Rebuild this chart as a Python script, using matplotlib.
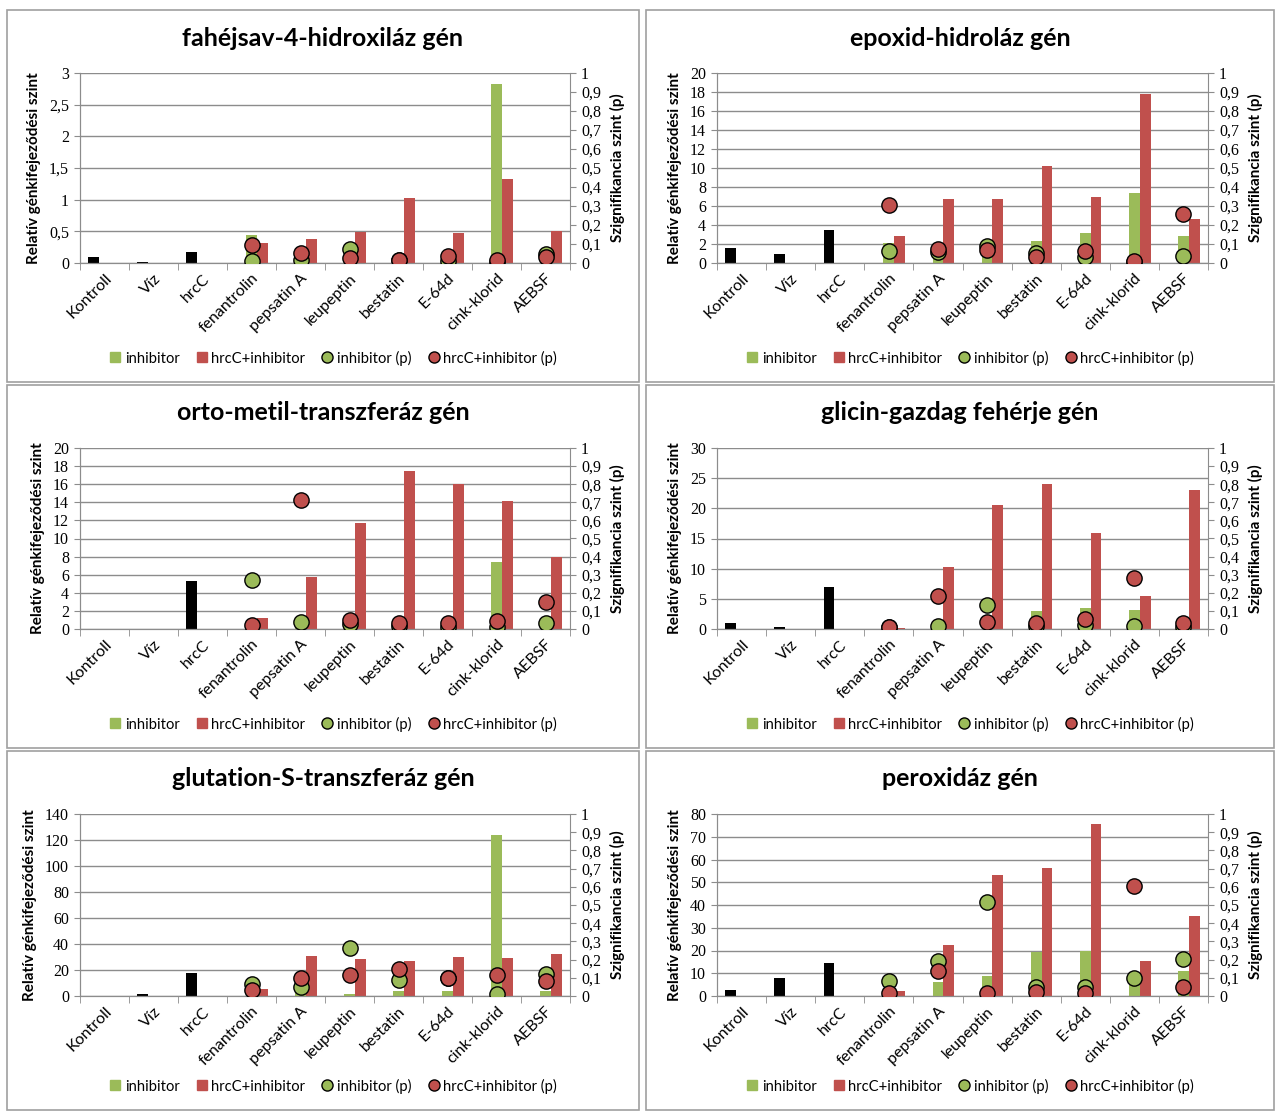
import matplotlib.pyplot as plt
from matplotlib.ticker import FuncFormatter, MultipleLocator, FixedLocator
from matplotlib.lines import Line2D
from matplotlib.patches import Rectangle
import numpy as np

# categories on the x axis (first three are the reference treatments)
categories = ["Kontroll", "Víz", "hrcC", "fenantrolin", "pepsatin A",
              "leupeptin", "bestatin", "E-64d", "cink-klorid", "AEBSF"]

# fahéjsav-4-hidroxiláz
c4h_ref = [0.09, 0.01, 0.18]
c4h_inh = [0.45, 0.05, 0.18, 0.03, 0.05, 2.82, 0.12]
c4h_hrc = [0.31, 0.38, 0.49, 1.03, 0.47, 1.33, 0.51]
c4h_inh_p = [0.01, 0.014, 0.075, 0.015, 0.01, 0.007, 0.05]
c4h_hrc_p = [0.096, 0.053, 0.028, 0.014, 0.035, 0.014, 0.03]

# epoxid-hidroláz
eh_ref = [1.6, 1.0, 3.5]
eh_inh = [2.1, 1.5, 1.9, 2.3, 3.15, 7.4, 2.85]
eh_hrc = [2.8, 6.7, 6.7, 10.2, 7.0, 17.75, 4.67]
eh_inh_p = [0.063, 0.06, 0.088, 0.053, 0.03, 0.005, 0.037]
eh_hrc_p = [0.307, 0.072, 0.067, 0.03, 0.061, 0.009, 0.26]

# orto-metil-transzferáz
omt_ref = [0.0, 0.0, 5.3]
omt_inh = [0.2, 0.3, 0.5, 0.3, 0.3, 7.35, 0.5]
omt_hrc = [1.2, 5.7, 11.7, 17.5, 16.0, 14.1, 8.0]
omt_inh_p = [0.268, 0.04, 0.028, 0.017, 0.011, 0.011, 0.031]
omt_hrc_p = [0.024, 0.71, 0.05, 0.033, 0.033, 0.044, 0.149]

# glicin-gazdag fehérje
grp_ref = [0.95, 0.4, 7.0]
grp_inh = [0.0, 0.3, 0.5, 3.0, 3.4, 3.2, 0.5]
grp_hrc = [0.1, 10.3, 20.6, 24.1, 15.9, 5.5, 23.1]
grp_inh_p = [0.01, 0.018, 0.134, 0.017, 0.02, 0.018, 0.01]
grp_hrc_p = [0.013, 0.18, 0.037, 0.031, 0.053, 0.284, 0.035]

# glutation-S-transzferáz
gst_ref = [0.0, 1.5, 17.7]
gst_inh = [1.0, 6.0, 1.5, 3.8, 3.8, 124.0, 3.8]
gst_hrc = [5.1, 30.5, 28.2, 26.8, 30.0, 29.5, 32.3]
gst_inh_p = [0.066, 0.051, 0.264, 0.088, 0.1, 0.01, 0.12]
gst_hrc_p = [0.033, 0.10, 0.117, 0.147, 0.10, 0.115, 0.082]

# peroxidáz
pox_ref = [2.5, 7.8, 14.3]
pox_inh = [1.0, 6.0, 8.9, 19.4, 19.9, 6.0, 11.0]
pox_hrc = [2.0, 22.2, 53.1, 56.4, 75.5, 15.6, 35.0]
pox_inh_p = [0.082, 0.19, 0.515, 0.05, 0.05, 0.1, 0.204]
pox_hrc_p = [0.016, 0.137, 0.018, 0.024, 0.018, 0.606, 0.05]

titles = ["fahéjsav-4-hidroxiláz gén", "epoxid-hidroláz gén",
          "orto-metil-transzferáz gén", "glicin-gazdag fehérje gén",
          "glutation-S-transzferáz gén", "peroxidáz gén"]
ymax = [3, 20, 20, 30, 140, 80]
ystep = [0.5, 2, 2, 5, 20, 10]

panels = [
    (c4h_ref, c4h_inh, c4h_hrc, c4h_inh_p, c4h_hrc_p),
    (eh_ref, eh_inh, eh_hrc, eh_inh_p, eh_hrc_p),
    (omt_ref, omt_inh, omt_hrc, omt_inh_p, omt_hrc_p),
    (grp_ref, grp_inh, grp_hrc, grp_inh_p, grp_hrc_p),
    (gst_ref, gst_inh, gst_hrc, gst_inh_p, gst_hrc_p),
    (pox_ref, pox_inh, pox_hrc, pox_inh_p, pox_hrc_p),
]

GREEN = "#9bbb59"
RED = "#c0504d"
GRID = "#8c8c8c"
SANS = ["Lato", "DejaVu Sans"]
SERIF = ["Liberation Serif", "DejaVu Serif"]

W, H = 1275, 1113
fig = plt.figure(figsize=(W / 100, H / 100), dpi=100)


def rect(x0, y0, x1, y1):
    return [x0 / W, 1 - y1 / H, (x1 - x0) / W, (y1 - y0) / H]


def comma(v, _):
    s = f"{round(v, 2):g}"
    return s.replace(".", ",")


frames_x = [(7, 639), (646, 1274)]
frames_y = [(10, 382), (385, 748), (751, 1110)]
axes_x = [(80, 570), (717, 1208)]
axes_y = [(73, 263), (448, 629), (814, 996)]

x = np.arange(len(categories))
w = 0.22

for i, (ref, inh, hrc, inh_p, hrc_p) in enumerate(panels):
    r, c = divmod(i, 2)
    fx0, fx1 = frames_x[c]
    fy0, fy1 = frames_y[r]
    fig.add_artist(Rectangle((fx0 / W, 1 - fy1 / H), (fx1 - fx0) / W,
                             (fy1 - fy0) / H, transform=fig.transFigure,
                             fill=False, edgecolor="#a0a0a0", lw=1.2))

    ax0, ax1 = axes_x[c]
    ay0, ay1 = axes_y[r]
    ax = fig.add_axes(rect(ax0, ay0, ax1, ay1))
    ax2 = ax.twinx()

    ax.bar(x[:3] - w, ref, w, color="black", zorder=2)
    ax.bar(x[3:], inh, w, color=GREEN, zorder=2)
    ax.bar(x[3:] + w, hrc, w, color=RED, zorder=2)

    ax2.plot(x[3:], inh_p, "o", ms=11, mfc=GREEN, mec="black", mew=1.0,
             ls="none", zorder=3)
    ax2.plot(x[3:], hrc_p, "o", ms=11, mfc=RED, mec="black", mew=1.0,
             ls="none", zorder=4)

    ax.set_xlim(-0.5, len(categories) - 0.5)
    ax.set_ylim(0, ymax[i])
    ax2.set_ylim(0, 1)
    ax.yaxis.set_major_locator(MultipleLocator(ystep[i]))
    ax.yaxis.set_major_formatter(FuncFormatter(comma))
    ax2.yaxis.set_major_locator(MultipleLocator(0.1))
    ax2.yaxis.set_major_formatter(FuncFormatter(comma))
    ax.grid(axis="y", color=GRID, lw=1.0, zorder=0)
    ax.set_axisbelow(True)

    ax.set_xticks(x)
    ax.set_xticklabels(categories, rotation=45, ha="right",
                       rotation_mode="anchor", fontsize=11.5, family=SANS)
    ax.xaxis.set_minor_locator(FixedLocator(np.arange(-0.5, len(categories), 1)))
    ax.tick_params(axis="x", which="major", length=0, pad=6)
    ax.tick_params(axis="x", which="minor", length=5, color=GRID)
    ax.tick_params(axis="y", length=4, color=GRID, pad=4)
    ax2.tick_params(axis="y", length=4, color=GRID, pad=4)
    for lab in ax.get_yticklabels() + ax2.get_yticklabels():
        lab.set_family(SERIF)
        lab.set_fontsize(11.5)

    for a in (ax, ax2):
        a.spines["top"].set_visible(False)
        for s in ("left", "right", "bottom"):
            a.spines[s].set_color(GRID)
    ax.spines["right"].set_visible(False)

    ax.set_ylabel("Relatív génkifejeződési szint", fontsize=11,
                  fontweight="bold", family=SANS, labelpad=6)
    ax2.set_ylabel("Szignifikancia szint (p)", fontsize=11,
                   fontweight="bold", family=SANS, labelpad=6)

    fig.text((fx0 + fx1) / 2 / W, 1 - (fy0 + 28) / H, titles[i],
             ha="center", va="center", fontsize=18, fontweight="bold",
             family=SANS)

    handles = [
        Line2D([], [], marker="s", ls="none", mfc=GREEN, mec=GREEN, ms=7),
        Line2D([], [], marker="s", ls="none", mfc=RED, mec=RED, ms=7),
        Line2D([], [], marker="o", ls="none", mfc=GREEN, mec="black", ms=8),
        Line2D([], [], marker="o", ls="none", mfc=RED, mec="black", ms=8),
    ]
    labels = ["inhibitor", "hrcC+inhibitor", "inhibitor (p)",
              "hrcC+inhibitor (p)"]
    fig.legend(handles, labels, loc="center",
               bbox_to_anchor=((fx0 + fx1) / 2 / W + 0.008, 1 - (fy1 - 24) / H),
               ncol=4, frameon=False, handletextpad=0.25, columnspacing=1.1,
               handlelength=0.8, prop={"family": SANS, "size": 10.6})

fig.savefig("out.png", dpi=100)
